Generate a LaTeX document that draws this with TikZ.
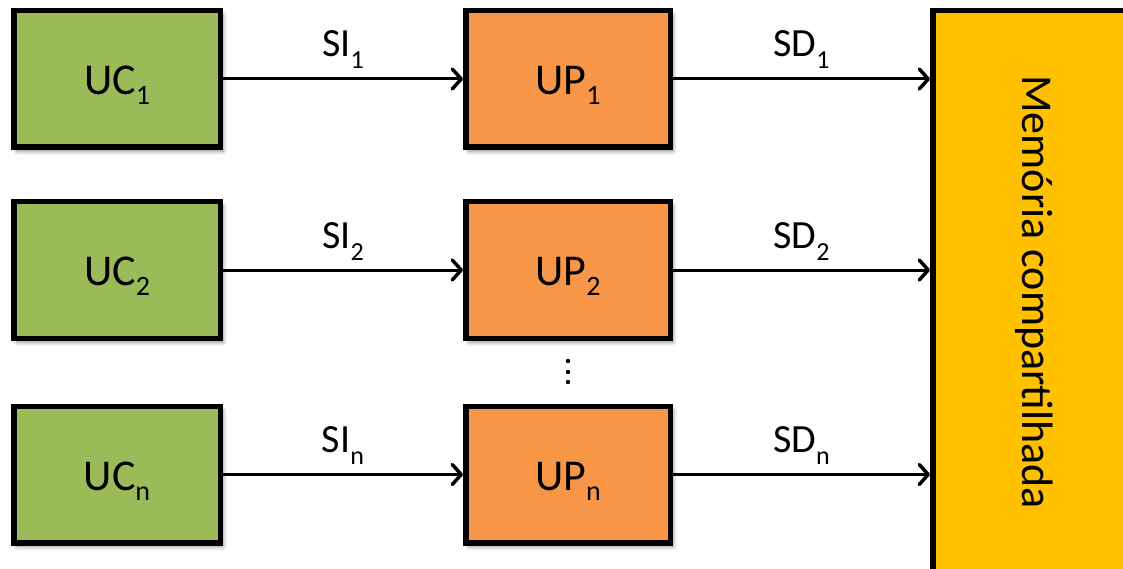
\documentclass[tikz,border=0pt]{standalone}
\usepackage{fontspec}
\setmainfont{Carlito}
\usetikzlibrary{arrows.meta,shadows.blur}

\definecolor{ucgreen}{HTML}{9BBB59}
\definecolor{uporange}{HTML}{F79646}
\definecolor{memgold}{HTML}{FFC000}

% subscripts inside the boxes and on the connector labels
\newcommand\boxsub[1]{\raisebox{-10pt}{\fontsize{28}{28}\selectfont #1}}
\newcommand\lblsub[1]{\raisebox{-12pt}{\fontsize{26}{26}\selectfont #1}}

\tikzset{
  unitbox/.style={draw=black, line width=5.5pt, inner sep=0pt,
    minimum height=136.5pt, text height=31pt, text depth=0pt,
    font=\fontsize{44}{44}\selectfont,
    blur shadow={shadow xshift=3pt, shadow yshift=-4pt,
      shadow blur radius=4pt, shadow opacity=45}},
  ucbox/.style={unitbox, fill=ucgreen, minimum width=206.5pt},
  upbox/.style={unitbox, fill=uporange, minimum width=204.5pt},
  membox/.style={draw=black, line width=5.5pt, fill=memgold, inner sep=0pt,
    rotate=-90, minimum width=562.5pt, minimum height=202.5pt,
    font=\fontsize{44}{44}\selectfont},
  conn/.style={line width=3pt,
    -{Straight Barb[length=9pt,width=20pt,line width=3.5pt,round]}},
  lbl/.style={inner sep=0pt, anchor=base, yshift=22pt,
    font=\fontsize{40}{40}\selectfont},
  dotmark/.style={fill=black}
}

\begin{document}
\begin{tikzpicture}[x=1pt,y=-1pt]
  \path[use as bounding box] (0,0) rectangle (1123,569);
  \clip (0,0) rectangle (1123,569);

  % shared memory (runs off the right and bottom edges); rotated, so its
  % left side is the "south" anchor
  \node[membox] (mem) at (1034,292) {Memória compartilhada};

  % control units
  \node[ucbox] (uc1) at (117,79)    {UC\boxsub{1}};
  \node[ucbox] (uc2) at (117,270)   {UC\boxsub{2}};
  \node[ucbox] (ucn) at (117,474.5) {UC\boxsub{n}};

  % processing units
  \node[upbox] (up1) at (568,79)    {UP\boxsub{1}};
  \node[upbox] (up2) at (568,270)   {UP\boxsub{2}};
  \node[upbox] (upn) at (568,474.5) {UP\boxsub{n}};

  % instruction streams
  \draw[conn] (uc1.east) -- (up1.west) node[lbl, pos=0.5] {SI\lblsub{1}};
  \draw[conn] (uc2.east) -- (up2.west) node[lbl, pos=0.5] {SI\lblsub{2}};
  \draw[conn] (ucn.east) -- (upn.west) node[lbl, pos=0.5] {SI\lblsub{n}};

  % data streams into the shared memory
  \draw[conn] (up1.east) -- (up1.east -| mem.south) node[lbl, pos=0.5] {SD\lblsub{1}};
  \draw[conn] (up2.east) -- (up2.east -| mem.south) node[lbl, pos=0.5] {SD\lblsub{2}};
  \draw[conn] (upn.east) -- (upn.east -| mem.south) node[lbl, pos=0.5] {SD\lblsub{n}};

  % vertical ellipsis between UP_2 and UP_n
  \fill[dotmark] (568,361) circle (2.2pt);
  \fill[dotmark] (568,372) circle (2.2pt);
  \fill[dotmark] (568,382) circle (2.2pt);
\end{tikzpicture}
\end{document}
